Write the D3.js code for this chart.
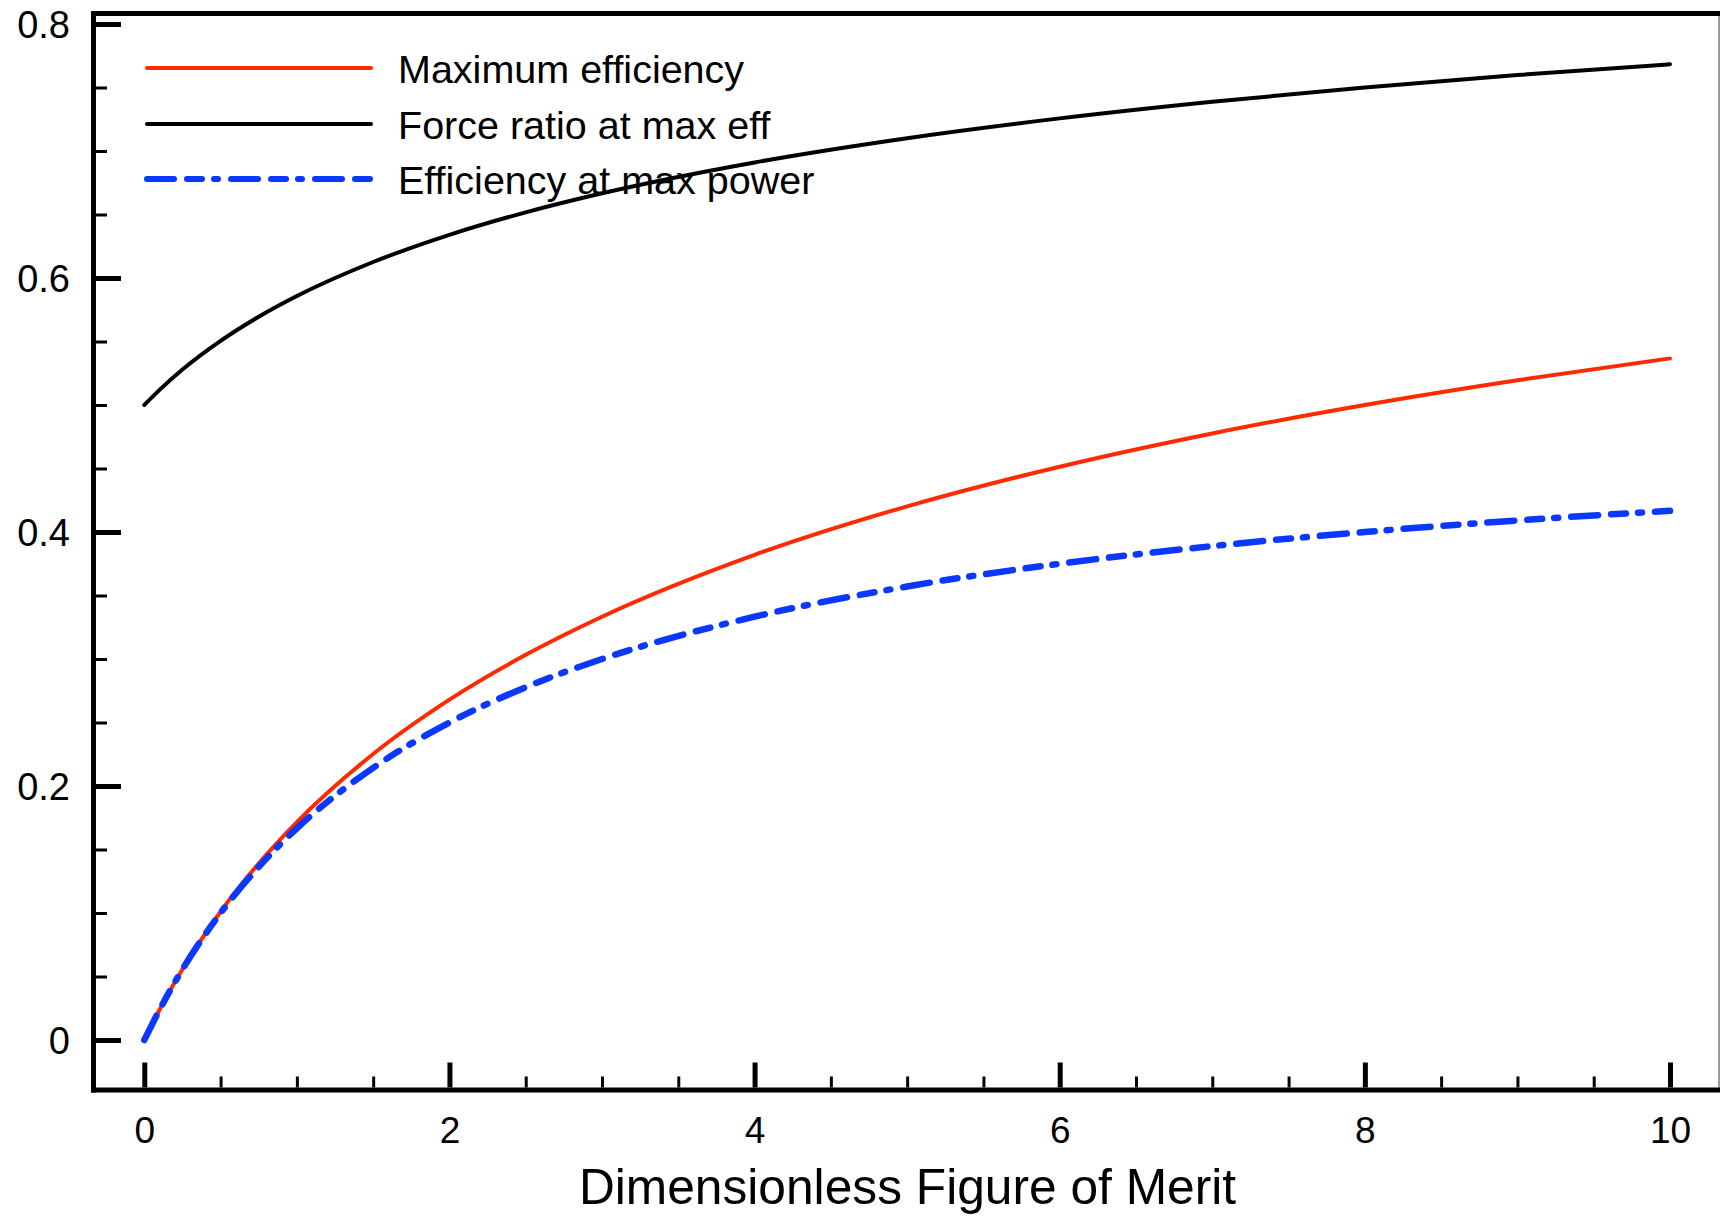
<!DOCTYPE html>
<html>
<head>
<meta charset="utf-8">
<script src="https://cdn.jsdelivr.net/npm/d3@7"></script>
<style>
  html, body { margin: 0; padding: 0; background: #fff; }
  svg { display: block; }
  text { font-family: "Liberation Sans", Arial, Helvetica, sans-serif; fill: #000; }
</style>
</head>
<body>
<svg id="chart" width="1720" height="1216"></svg>
<script>
// ---- Data ----
const figureOfMerit   = [0, 0.1, 0.25, 0.5, 0.75, 1, 1.5, 2, 2.5, 3, 4, 5, 6, 7, 8, 9, 10];
const maxEfficiency   = [0, 0.0238, 0.0557, 0.1010, 0.1390, 0.1716, 0.2252, 0.2680, 0.3033, 0.3333, 0.3820, 0.4202, 0.4514, 0.4776, 0.5000, 0.5195, 0.5367];
const forceRatio      = [0.5, 0.5119, 0.5279, 0.5505, 0.5695, 0.5858, 0.6126, 0.6340, 0.6517, 0.6667, 0.6910, 0.7101, 0.7257, 0.7388, 0.7500, 0.7598, 0.7683];
const effAtMaxPower   = [0, 0.0238, 0.0556, 0.1000, 0.1364, 0.1667, 0.2143, 0.2500, 0.2778, 0.3000, 0.3333, 0.3571, 0.3750, 0.3889, 0.4000, 0.4091, 0.4167];
const seriesNames     = ["Maximum efficiency", "Force ratio at max eff", "Efficiency at max power"];
const xTickValues     = [0, 2, 4, 6, 8, 10];
const yTickValues     = [0, 0.2, 0.4, 0.6, 0.8];
const xTickLabels     = ["0", "2", "4", "6", "8", "10"];
const yTickLabels     = ["0", "0.2", "0.4", "0.6", "0.8"];
const xAxisTitle      = "Dimensionless Figure of Merit";

// ---- Layout ----
const svg = d3.select("#chart");
const frameLeft = 96, frameRight = 1719, frameTop = 13.5, frameBottom = 1087.5;

const x = d3.scaleLinear().domain([0, 10]).range([144.3, 1670]);
const y = d3.scaleLinear().domain([0, 0.8]).range([1040, 24]);

const styles = [
  { color: "#ff2a00", width: 4, dash: null },
  { color: "#000000", width: 4, dash: null },
  { color: "#0a38ff", width: 6.5, dash: "27,13,15,12,4,13" }
];
const seriesData = [maxEfficiency, forceRatio, effAtMaxPower];

// ---- Minor ticks ----
const yMinor = d3.range(0, 0.8001, 0.05).filter(v => !yTickValues.some(t => Math.abs(t - v) < 1e-6));
const xMinor = d3.range(0, 10.001, 0.5).filter(v => !xTickValues.some(t => Math.abs(t - v) < 1e-6));

svg.append("g")
  .attr("transform", `translate(${frameLeft},0)`)
  .call(d3.axisLeft(y).tickValues(yMinor).tickSizeInner(-11).tickSizeOuter(0).tickFormat(""))
  .call(g => g.select(".domain").remove())
  .call(g => g.selectAll("line").attr("stroke", "#000").attr("stroke-width", 3));

svg.append("g")
  .attr("transform", `translate(0,${frameBottom})`)
  .call(d3.axisBottom(x).tickValues(xMinor).tickSizeInner(-11).tickSizeOuter(0).tickFormat(""))
  .call(g => g.select(".domain").remove())
  .call(g => g.selectAll("line").attr("stroke", "#000").attr("stroke-width", 3));

// ---- Major ticks with labels ----
svg.append("g")
  .attr("transform", `translate(${frameLeft},0)`)
  .call(d3.axisLeft(y).tickValues(yTickValues).tickSizeInner(-25).tickSizeOuter(0)
        .tickPadding(26).tickFormat((d, i) => yTickLabels[i]))
  .call(g => g.select(".domain").remove())
  .call(g => g.selectAll("line").attr("stroke", "#000").attr("stroke-width", 5))
  .call(g => g.selectAll("text")
      .attr("font-size", 38)
      .attr("font-family", "'Liberation Sans', Arial, sans-serif")
      .attr("fill", "#000")
      .attr("dy", "0.36em"));

svg.append("g")
  .attr("transform", `translate(0,${frameBottom})`)
  .call(d3.axisBottom(x).tickValues(xTickValues).tickSizeInner(-25).tickSizeOuter(0)
        .tickPadding(29).tickFormat((d, i) => xTickLabels[i]))
  .call(g => g.select(".domain").remove())
  .call(g => g.selectAll("line").attr("stroke", "#000").attr("stroke-width", 5))
  .call(g => g.selectAll("text")
      .attr("font-size", 37)
      .attr("font-family", "'Liberation Sans', Arial, sans-serif")
      .attr("fill", "#000"));

// ---- Frame ----
svg.append("line").attr("x1", 1719).attr("x2", 1719).attr("y1", frameTop).attr("y2", 1092)
  .attr("stroke", "#777").attr("stroke-width", 1.5);
svg.append("line").attr("x1", 91).attr("x2", 1720).attr("y1", frameTop).attr("y2", frameTop)
  .attr("stroke", "#000").attr("stroke-width", 5);
svg.append("line").attr("x1", 91).attr("x2", 1720).attr("y1", 1090).attr("y2", 1090)
  .attr("stroke", "#000").attr("stroke-width", 5);
svg.append("line").attr("x1", 93.5).attr("x2", 93.5).attr("y1", 11).attr("y2", 1092.5)
  .attr("stroke", "#000").attr("stroke-width", 5);

// ---- Curves ----
const line = d3.line()
  .x(d => x(d[0]))
  .y(d => y(d[1]))
  .curve(d3.curveMonotoneX);

// draw force ratio first, then red, then blue dashed on top
[1, 0, 2].forEach(i => {
  const pts = figureOfMerit.map((v, k) => [v, seriesData[i][k]]);
  const p = svg.append("path")
    .datum(pts)
    .attr("d", line)
    .attr("fill", "none")
    .attr("stroke", styles[i].color)
    .attr("stroke-width", styles[i].width)
    .attr("stroke-linecap", "round")
    .attr("stroke-linejoin", "round");
  if (styles[i].dash) p.attr("stroke-dasharray", styles[i].dash);
});

// ---- Legend ----
const legendY = [68, 124, 179];
const legend = svg.append("g");
seriesNames.forEach((name, i) => {
  const l = legend.append("line")
    .attr("x1", 147).attr("x2", 371)
    .attr("y1", legendY[i]).attr("y2", legendY[i])
    .attr("stroke", styles[i].color)
    .attr("stroke-width", i === 2 ? 6 : 4)
    .attr("stroke-linecap", "round");
  if (styles[i].dash) l.attr("stroke-dasharray", styles[i].dash);
  legend.append("text")
    .attr("x", 398)
    .attr("y", legendY[i] + 15)
    .attr("font-size", 39.5)
    .text(name);
});

// ---- Axis title ----
svg.append("text")
  .attr("x", (frameLeft + frameRight) / 2)
  .attr("y", 1204)
  .attr("text-anchor", "middle")
  .attr("font-size", 49.7)
  .text(xAxisTitle);
</script>
</body>
</html>
